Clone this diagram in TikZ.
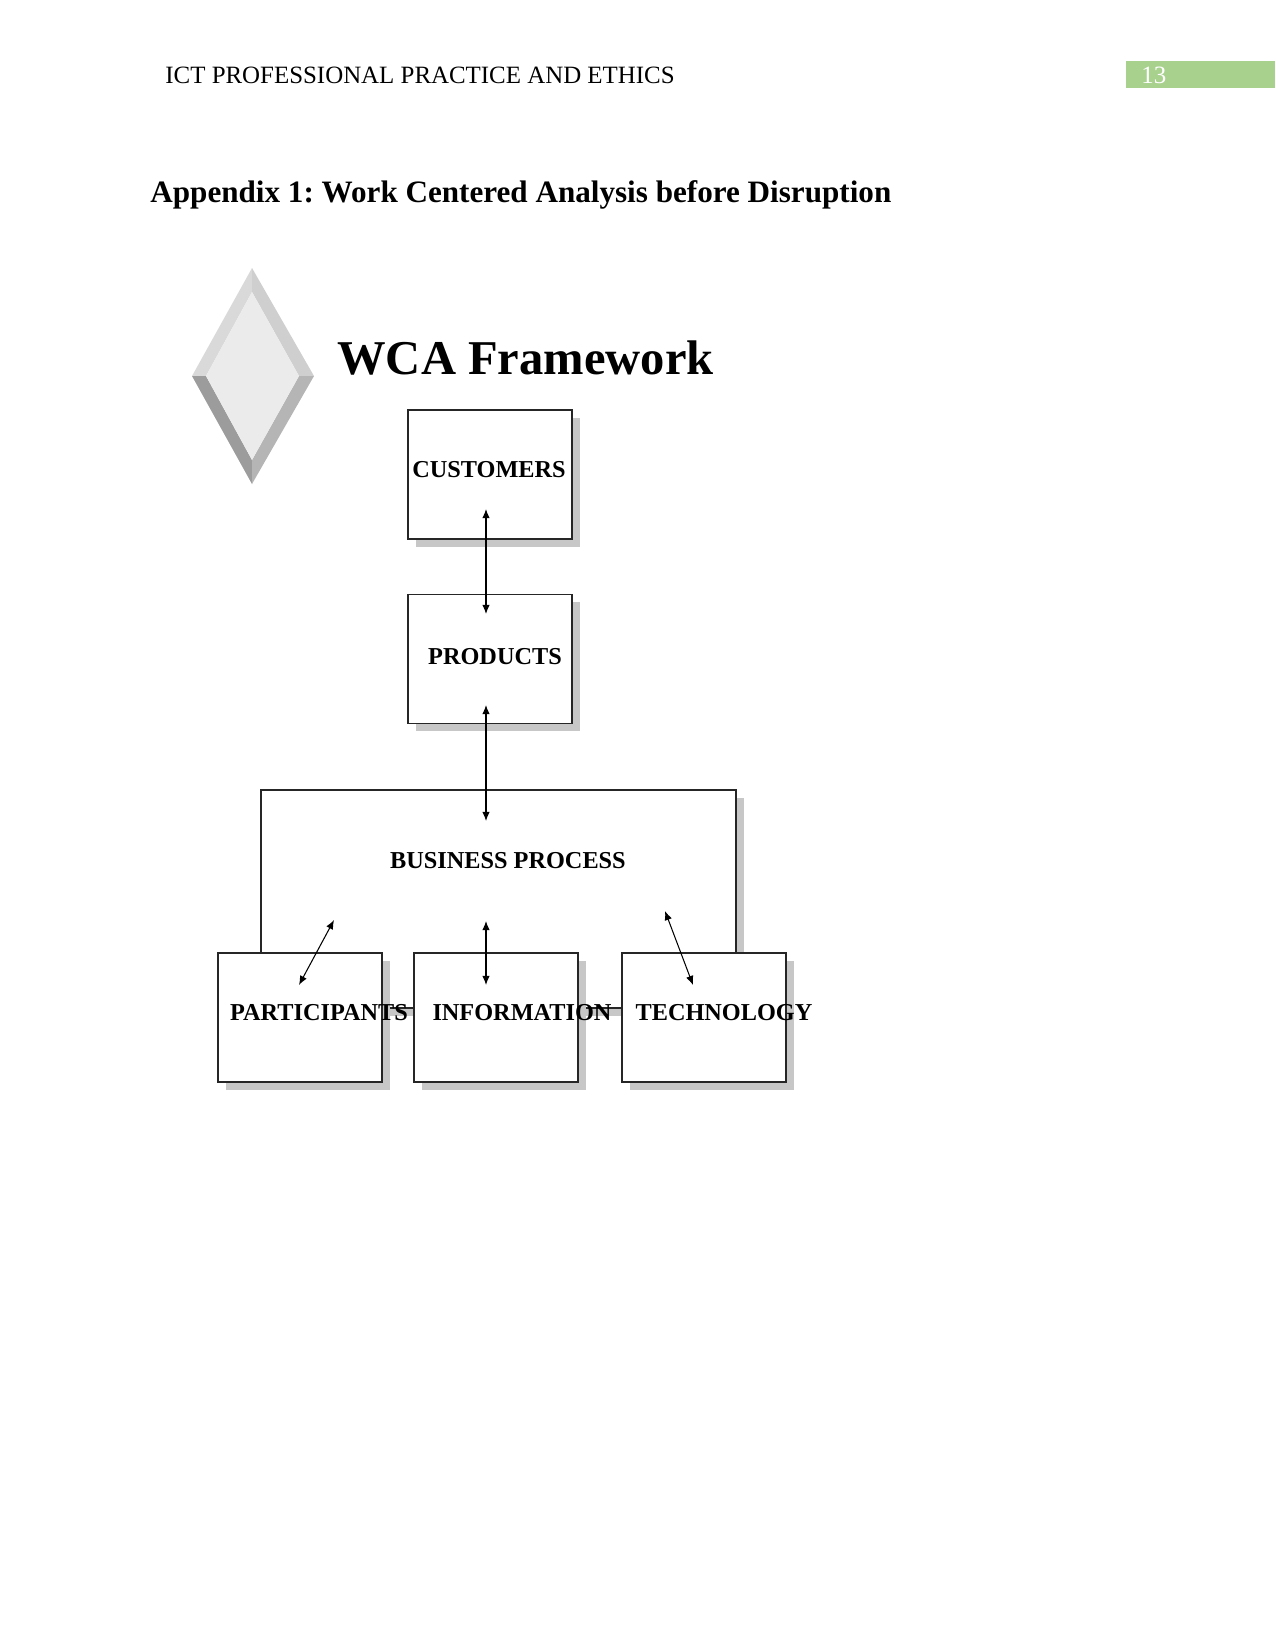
\documentclass[tikz,border=0pt]{standalone}
\usepackage{fontspec}
\setmainfont{Liberation Serif}
\usepackage{xcolor}
\usetikzlibrary{arrows.meta, shadows}

\definecolor{headgreen}{HTML}{A9D18E}
\frenchspacing

\begin{document}
\begin{tikzpicture}[
  x=0.16933mm, y=-0.16933mm,
  box/.style={draw=black!85, fill=white, line width=0.6pt, minimum width=2.777cm, minimum height=2.184cm, inner sep=0pt,
    drop shadow={shadow xshift=3.8pt, shadow yshift=-3.8pt, fill=black!22, opacity=1}},
  boxlabel/.style={font=\fontsize{11.7}{14}\selectfont\bfseries, inner sep=0pt},
  arrow/.style={{Latex[length=4.4pt,width=3.6pt]}-{Latex[length=4.4pt,width=3.6pt]}, line width=0.5pt}
]
\useasboundingbox (0,0) rectangle (1275,1650);
% page header
\node[anchor=west, inner sep=0pt, font=\fontsize{12}{14}\selectfont] (head) at (165,75) {ICT PROFESSIONAL PRACTICE AND ETHICS};
\fill[headgreen] (1126,61) rectangle (1275,88);
\node[anchor=west, inner sep=0pt, text=white, font=\fontsize{12}{14}\selectfont] (pagenum) at (1141,75) {13};
\node[anchor=west, inner sep=0pt, font=\fontsize{15}{18}\selectfont\bfseries] (title) at (150,195) {Appendix 1: Work Centered Analysis before Disruption};
% bevelled diamond
\fill[black!15] (252,268) -- (192,376) -- (206,376) -- (252,292) -- cycle;
\fill[black!19] (252,268) -- (314,376) -- (299,376) -- (252,292) -- cycle;
\fill[black!39] (192,376) -- (252,484) -- (252,460) -- (206,376) -- cycle;
\fill[black!29] (314,376) -- (252,484) -- (252,460) -- (299,376) -- cycle;
\fill[black!8] (252,292) -- (299,376) -- (252,460) -- (206,376) -- cycle;
\node[anchor=west, inner sep=0pt, font=\fontsize{23.4}{28}\selectfont\bfseries] (wca) at (337,358) {WCA Framework};
% boxes
\node[box] (cust) at (490,474.5) {};
\node[box] (prod) at (490,659) {};
\node[box, minimum width=8.04cm, minimum height=3.69cm] (bp) at (498.5,899) {};
\node[box] (part) at (300,1017.5) {};
\node[box] (info) at (496,1017.5) {};
\node[box] (tech) at (704,1017.5) {};
% labels
\node[boxlabel] (custtxt) at (489,470) {CUSTOMERS};
\node[boxlabel] (prodtxt) at (495,657) {PRODUCTS};
\node[boxlabel] (bptxt) at (508,861) {BUSINESS PROCESS};
\node[boxlabel] (parttxt) at (319,1013) {PARTICIPANTS};
\node[boxlabel] (infotxt) at (522,1013) {INFORMATION};
\node[boxlabel] (techtxt) at (724,1013) {TECHNOLOGY};
% arrow ends
\coordinate (cp1) at (486,509);
\coordinate (cp2) at (486,614);
\coordinate (pb1) at (486,705);
\coordinate (pb2) at (486,821);
\coordinate (pp1) at (334,920);
\coordinate (pp2) at (299,985);
\coordinate (ip1) at (486,921);
\coordinate (ip2) at (486,985);
\coordinate (tp1) at (665,911);
\coordinate (tp2) at (693,985);
\draw[arrow] (cp1) -- (cp2);
\draw[arrow] (pb1) -- (pb2);
\draw[arrow] (pp1) -- (pp2);
\draw[arrow] (ip1) -- (ip2);
\draw[arrow] (tp1) -- (tp2);
\end{tikzpicture}
\end{document}
